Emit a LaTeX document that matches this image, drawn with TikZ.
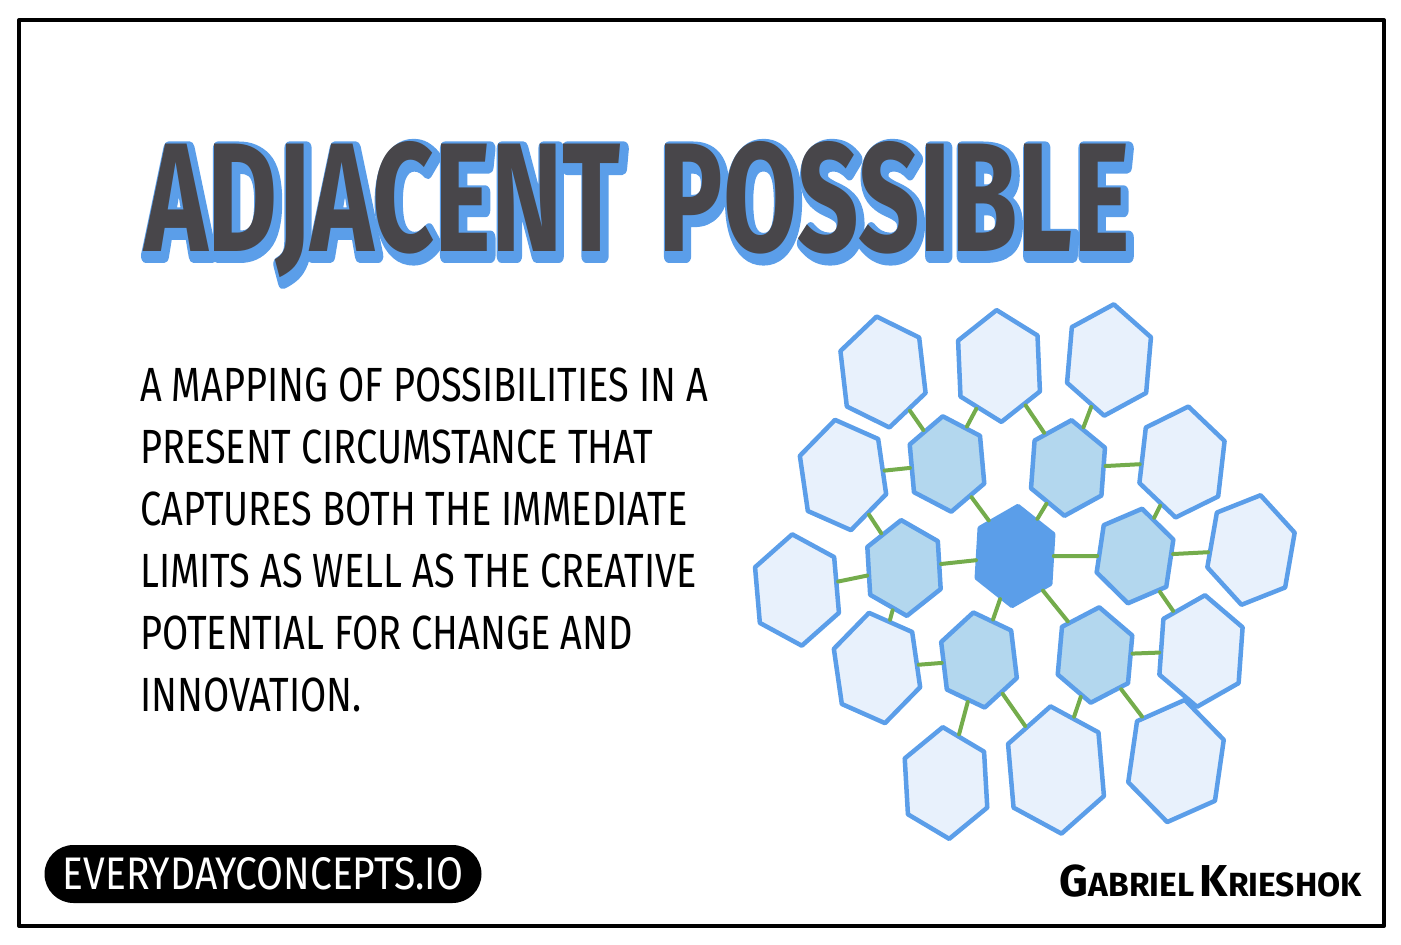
\documentclass[tikz,border=0pt]{standalone}
\usepackage{fontspec}
\setmainfont{Fira Sans}
\newfontfamily\titleglow[FakeBold=9]{Fira Sans Bold}
\usepackage{graphicx}
\usetikzlibrary{shapes.geometric}
\definecolor{hexblue}{RGB}{91,158,233}
\definecolor{midblue}{RGB}{179,215,238}
\definecolor{paleblue}{RGB}{232,241,252}
\definecolor{linkgreen}{RGB}{116,172,76}
\definecolor{inkgray}{RGB}{72,70,74}

\begin{document}
\begin{tikzpicture}[x=1pt,y=-1pt,
    hexa/.style={regular polygon,regular polygon sides=6,shape border rotate=30,draw=hexblue,line width=4.5pt,line join=round,inner sep=0pt,transform shape},
    outerhex/.style={hexa,fill=paleblue,minimum size=112pt,xscale=0.82},
    innerhex/.style={hexa,fill=midblue,minimum size=96pt,xscale=0.85},
    corehex/.style={hexa,fill=hexblue,minimum size=100pt,xscale=0.85},
    link/.style={draw=linkgreen,line width=4pt,line cap=round},
    ttl/.style={font=\bfseries,text=inkgray,inner sep=0pt},
    ttlshadow/.style={font=\titleglow,text=hexblue,inner sep=0pt},
    body/.style={font=\fontsize{48}{62}\selectfont,align=left,inner sep=0pt,xscale=0.79,transform shape},
    badge/.style={fill=black,text=white,rounded corners=29pt,minimum width=437pt,minimum height=58pt,inner sep=0pt},
    sign/.style={font=\bfseries,inner sep=0pt}]
  \useasboundingbox (0,0) rectangle (1401,945);
  \draw[line width=4pt,line join=round] (19,20) rectangle (1384,926);

  \node[ttlshadow] (glow) at (640,214) {\special{pdf:literal direct 1 j 1 J 1 M}\resizebox{985pt}{110pt}{ADJACENT\hspace{0.35em}POSSIBLE}};
  \node[ttl] (title) at (637,210) {\resizebox{985pt}{110pt}{ADJACENT\hspace{0.35em}POSSIBLE}};

  \node[body,anchor=north west] (desc) at (140,368) {A MAPPING OF POSSIBILITIES IN A\\PRESENT CIRCUMSTANCE THAT\\CAPTURES BOTH THE IMMEDIATE\\LIMITS AS WELL AS THE CREATIVE\\POTENTIAL FOR CHANGE AND\\INNOVATION.};

  \node[corehex,rotate=-4] (c) at (1015,556) {};
  \node[innerhex,rotate=6] (i1) at (947,464) {};
  \node[innerhex,rotate=-5] (i2) at (1068,468) {};
  \node[innerhex,rotate=4] (i3) at (904,568) {};
  \node[innerhex,rotate=-10] (i4) at (1135,556) {};
  \node[innerhex,rotate=8] (i5) at (979,660) {};
  \node[innerhex,rotate=-6] (i6) at (1095,655) {};

  \node[outerhex,rotate=8] (o1) at (883,372) {};
  \node[outerhex,rotate=3] (o2) at (999,366) {};
  \node[outerhex,rotate=-6] (o3) at (1109,360) {};
  \node[outerhex,rotate=10] (o4) at (843,475) {};
  \node[outerhex,rotate=-8] (o5) at (1182,462) {};
  \node[outerhex,rotate=6] (o6) at (797,590) {};
  \node[outerhex,rotate=-12] (o7) at (1251,550) {};
  \node[outerhex,rotate=10] (o8) at (877,668) {};
  \node[outerhex,rotate=-5] (o9) at (1201,651) {};
  \node[outerhex,rotate=4] (o10) at (946,783) {};
  \node[outerhex,rotate=6,minimum size=128pt] (o11) at (1056,770) {};
  \node[outerhex,rotate=-10,minimum size=124pt] (o12) at (1176,761) {};

  \foreach \a/\b in {c/i1,c/i2,c/i3,c/i4,c/i5,c/i6,i1/o1,i1/o2,i1/o4,i2/o2,i2/o3,i2/o5,i3/o4,i3/o6,i3/o8,i4/o5,i4/o7,i4/o9,i5/o8,i5/o10,i5/o11,i6/o9,i6/o11,i6/o12}
    \draw[link] (\a) -- (\b);

  \node[badge] (site) at (263,874) {\resizebox{400pt}{32pt}{EVERYDAYCONCEPTS.IO}};
  \node[sign,anchor=east] (author) at (1362,881) {\resizebox{302pt}{!}{{\fontsize{40}{40}\selectfont G}{\fontsize{30}{30}\selectfont ABRIEL}\hspace{0.5em}{\fontsize{40}{40}\selectfont K}{\fontsize{30}{30}\selectfont RIESHOK}}};
\end{tikzpicture}
\end{document}
